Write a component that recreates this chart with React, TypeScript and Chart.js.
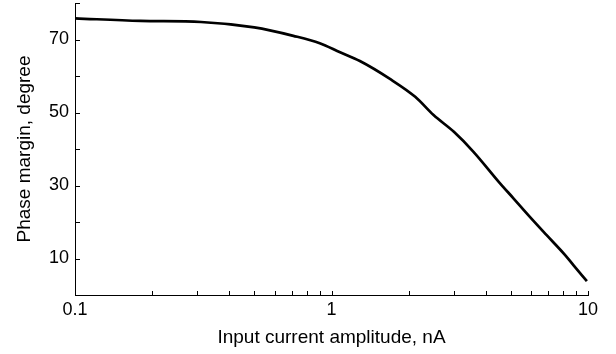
import React, { useEffect, useRef } from "react";
import { Chart, registerables } from "chart.js";

Chart.register(...registerables);

// Data
const currentNA = [0.1, 0.18, 0.31, 0.5, 0.71, 0.9, 1.08, 1.29, 1.69, 2.12, 2.5, 3.0, 3.57, 4.54, 5.12, 5.85, 6.9, 8.13, 8.77, 9.9];
const phaseMarginDeg = [75.8, 75.1, 74.8, 73.3, 71.0, 69.0, 66.5, 64.1, 59.2, 54.3, 49.3, 44.7, 39.3, 30.6, 26.5, 21.9, 16.4, 11.0, 8.2, 3.8];

const xTickValues = [0.1, 0.2, 0.3, 0.4, 0.5, 0.6, 0.7, 0.8, 0.9, 1, 2, 3, 4, 5, 6, 7, 8, 9, 10];
const xTickLabels = ["0.1", "1", "10"];
const yTickValues = [0, 10, 20, 30, 40, 50, 60, 70, 80];
const yTickLabels = ["10", "30", "50", "70"];

const xTitle = "Input current amplitude, nA";
const yTitle = "Phase margin, degree";

const FONT = "'Liberation Sans', Arial, Helvetica, sans-serif";

const inwardTicks = {
  id: "inwardTicks",
  afterDraw(chart: any) {
    const ctx = chart.ctx;
    const area = chart.chartArea;
    const x = chart.scales["x"];
    const y = chart.scales["y"];
    ctx.save();
    ctx.strokeStyle = "#000";
    ctx.lineWidth = 1;
    ctx.beginPath();
    for (const v of xTickValues) {
      const px = Math.round(x.getPixelForValue(v)) + 0.5;
      ctx.moveTo(px, area.bottom);
      ctx.lineTo(px, area.bottom - 4);
    }
    for (const v of yTickValues) {
      const py = Math.round(y.getPixelForValue(v)) + 0.5;
      ctx.moveTo(area.left, py);
      ctx.lineTo(area.left + 5, py);
    }
    ctx.stroke();
    ctx.restore();
  },
};

export default function App() {
  const canvasRef = useRef<HTMLCanvasElement | null>(null);

  useEffect(() => {
    document.body.style.margin = "0";
    const canvas = canvasRef.current;
    if (!canvas) return;
    const chart = new Chart(canvas, {
      type: "line",
      data: {
        datasets: [
          {
            data: currentNA.map((v, i) => ({ x: v, y: phaseMarginDeg[i] })),
            borderColor: "#000",
            borderWidth: 2.7,
            pointRadius: 0,
            cubicInterpolationMode: "monotone",
            fill: false,
          },
        ],
      },
      options: {
        responsive: false,
        animation: false,
        layout: { padding: { left: 0, top: 3, right: 28, bottom: 0 } },
        plugins: { legend: { display: false }, tooltip: { enabled: false }, title: { display: false } },
        scales: {
          x: {
            type: "logarithmic",
            min: 0.1,
            max: 10,
            afterBuildTicks: (scale: any) => {
              scale.ticks = xTickValues.map((v) => ({ value: v }));
            },
            afterFit: (scale: any) => {
              scale.height = 59;
              scale.paddingLeft = 0;
              scale.paddingRight = 0;
            },
            grid: { display: false, drawTicks: false },
            border: { display: true, color: "#000", width: 1 },
            ticks: {
              autoSkip: false,
              maxRotation: 0,
              padding: 4,
              color: "#000",
              font: { family: FONT, size: 18 },
              callback: (value: any) => {
                const s = String(Number(value));
                return xTickLabels.includes(s) ? s : null;
              },
            },
            title: {
              display: true,
              text: xTitle,
              color: "#000",
              font: { family: FONT, size: 19 },
              padding: { top: 0, bottom: 5 },
            },
          },
          y: {
            type: "linear",
            min: 0,
            max: 80,
            afterBuildTicks: (scale: any) => {
              scale.ticks = yTickValues.map((v) => ({ value: v }));
            },
            afterFit: (scale: any) => {
              scale.width = 75;
              scale.paddingTop = 0;
              scale.paddingBottom = 0;
            },
            grid: { display: false, drawTicks: false },
            border: { display: true, color: "#000", width: 1 },
            ticks: {
              autoSkip: false,
              padding: 6,
              color: "#000",
              font: { family: FONT, size: 18 },
              callback: (value: any) => {
                const s = String(Number(value));
                return yTickLabels.includes(s) ? s : null;
              },
            },
            title: {
              display: true,
              text: yTitle,
              color: "#000",
              font: { family: FONT, size: 19 },
              padding: { top: 13, bottom: 0 },
            },
          },
        },
      },
      plugins: [inwardTicks],
    } as any);
    return () => chart.destroy();
  }, []);

  return (
    <div style={{ width: 616, height: 354 }}>
      <canvas ref={canvasRef} width={616} height={354} style={{ display: "block" }} />
    </div>
  );
}
